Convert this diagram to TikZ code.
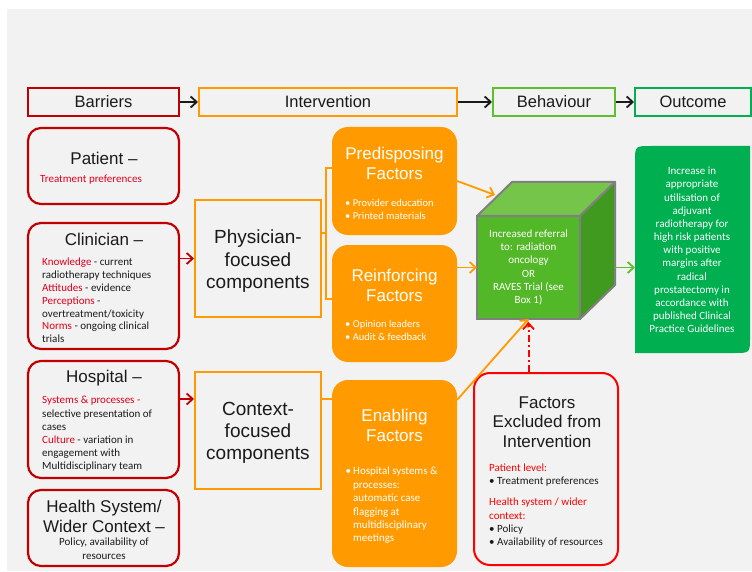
\documentclass[tikz,border=0pt]{standalone}
\usepackage{fontspec}
\setmainfont{Liberation Sans}
\newfontfamily\calfont{Carlito}
\usetikzlibrary{arrows.meta}
\definecolor{bg}{HTML}{F2F2F2}
\definecolor{bred}{HTML}{C00000}
\definecolor{xred}{HTML}{FF0000}
\definecolor{tred}{HTML}{E0001B}
\definecolor{orng}{HTML}{FF9B00}
\definecolor{lgreen}{HTML}{5CC02C}
\definecolor{dgreen}{HTML}{00AF50}
\definecolor{cfront}{HTML}{52B827}
\definecolor{ctop}{HTML}{74C54A}
\definecolor{cside}{HTML}{3F9A1F}
\definecolor{cedge}{HTML}{808080}
\definecolor{txt}{HTML}{1A1A1A}
\tikzset{
  hdr/.style={draw, line width=2pt, inner sep=0pt, minimum height=28pt, font=\fontsize{16.5}{20}\selectfont, text=txt},
  barbox/.style={draw=bred, line width=2.2pt, rounded corners=13pt, minimum width=151pt, inner sep=0pt},
  compbox/.style={draw=orng, line width=2pt, minimum width=126pt, minimum height=117pt, inner sep=0pt},
  facbox/.style={fill=orng, rounded corners=16pt, minimum width=125pt, inner sep=0pt},
  bigtxt/.style={font=\fontsize{17}{19.5}\selectfont, text=txt, align=center, inner sep=0pt},
  comptxt/.style={font=\fontsize{19}{22.5}\selectfont, text=txt, align=center, inner sep=0pt},
  factxt/.style={font=\fontsize{17}{20}\selectfont, text=white, align=center, inner sep=0pt},
  smalltxt/.style={font=\calfont\fontsize{11}{13}\selectfont, text=txt, align=left, inner sep=0pt, anchor=west},
  bultxt/.style={font=\calfont\fontsize{10.5}{13}\selectfont, text=white, align=left, inner sep=0pt, anchor=west},
  arr/.style={-{Straight Barb[length=6pt,width=11pt,line width=1.8pt]}, line width=1.8pt},
  brk/.style={draw=orng, line width=1.6pt},
}
\begin{document}
\begin{tikzpicture}[x=1pt,y=-1pt]
\useasboundingbox (0,0) rectangle (752,572);
\fill[bg] (7,9) rectangle (752,571);

% header row
\node[hdr, draw=bred, minimum width=151pt] (barriers) at (103.5,102) {Barriers};
\node[hdr, draw=orng, minimum width=258pt] (interv) at (328,102) {Intervention};
\node[hdr, draw=lgreen, minimum width=122pt] (behav) at (554,102) {Behaviour};
\node[hdr, draw=dgreen, minimum width=116pt] (outc) at (693,102) {Outcome};
\draw[arr, txt] (barriers) -- (interv);
\draw[arr, txt] (interv) -- (behav);
\draw[arr, txt] (behav) -- (outc);

% barrier boxes
\node[barbox, minimum height=76pt] (pat) at (103.5,166) {};
\node[bigtxt] (pat-t) at (104,158) {Patient –};
\node[smalltxt, text=tred] (pat-b) at (40,180) {Treatment preferences};

\node[barbox, minimum height=126pt] (clin) at (103.5,286) {};
\node[bigtxt] (clin-t) at (104,239) {Clinician –};
\node[smalltxt, font=\calfont\fontsize{11}{12.85}\selectfont] (clin-b) at (42,300.5) {\textcolor{tred}{Knowledge} - current\\radiotherapy techniques\\\textcolor{tred}{Attitudes} - evidence\\\textcolor{tred}{Perceptions} -\\overtreatment/toxicity\\\textcolor{tred}{Norms} - ongoing clinical\\trials};

\node[barbox, minimum height=117pt] (hosp) at (103.5,419.5) {};
\node[bigtxt] (hosp-t) at (104,378) {Hospital –};
\node[smalltxt, font=\calfont\fontsize{11}{13.2}\selectfont] (hosp-b) at (42,434) {\textcolor{tred}{Systems \& processes -}\\selective presentation of\\cases\\\textcolor{tred}{Culture} - variation in\\engagement with\\Multidisciplinary team};

\node[barbox, minimum height=76pt] (hs) at (103.5,528) {};
\node[bigtxt] (hs-t) at (104,516.5) {Health System/\\Wider Context –};
\node[smalltxt, anchor=center, align=center, font=\calfont\fontsize{11}{14}\selectfont] (hs-b) at (104,549) {Policy, availability of\\resources};

% component boxes
\node[compbox] (phys) at (258,258.5) {};
\node[comptxt] (phys-t) at (258,261.5) {Physician-\\focused\\components};
\node[compbox] (ctx) at (258,430.5) {};
\node[comptxt, font=\fontsize{19}{22}\selectfont] (ctx-t) at (258,433) {Context-\\focused\\components};

\draw[arr, bred] (clin.east |- phys) -- (phys.west);
\draw[arr, bred] ([yshift=20.5pt]hosp.east) -- ([yshift=20.5pt]hosp.east -| ctx.west);

% factor boxes
\node[facbox, minimum height=108pt] (prede) at (394.5,181) {};
\node[factxt] (prede-t) at (394.5,163) {Predisposing\\Factors};
\node[bultxt] (prede-b) at (345,209.5) {• Provider education\\• Printed materials};

\node[facbox, minimum height=117pt] (reinf) at (394.5,303.5) {};
\node[factxt] (reinf-t) at (394.5,285) {Reinforcing\\Factors};
\node[bultxt] (reinf-b) at (345,330.5) {• Opinion leaders\\• Audit \& feedback};

\node[facbox, minimum height=187pt] (enab) at (394.5,473.5) {};
\node[factxt] (enab-t) at (394.5,425.5) {Enabling\\Factors};
\node[bultxt, font=\calfont\fontsize{11}{13.4}\selectfont] (enab-d) at (345.5,472) {•};
\node[bultxt, font=\calfont\fontsize{11}{13.4}\selectfont] (enab-b) at (353,505.5) {Hospital systems \&\\processes:\\automatic case\\flagging at\\multidisciplinary\\meetings};

% bracket connectors
\coordinate (b1) at (326,168);
\coordinate (b2) at (326,299);
\coordinate (b3) at (326,233);
\coordinate (b4) at (326,399);
\draw[brk] (b1 -| prede.west) -- (b1) -- (b2) -- (b2 -| reinf.west);
\draw[brk] (b3 -| phys.east) -- (b3);
\draw[brk] (b4 -| ctx.east) -- (b4 -| enab.west);

% cube
\node[fill=cfront, draw=cedge, line width=2pt, outer sep=0pt, minimum width=103pt, minimum height=103pt, inner sep=0pt, font=\calfont\fontsize{11}{13.2}\selectfont, text=white, align=center] (cube) at (528.5,267.5) {Increased referral\\to: radiation\\oncology\\OR\\RAVES Trial (see\\Box 1)};
\filldraw[fill=ctop, draw=cedge, line width=2pt, line join=round] (cube.north west) -- ++(35pt,34pt) -- ++(103pt,0pt) -- (cube.north east) -- cycle;
\filldraw[fill=cside, draw=cedge, line width=2pt, line join=round] (cube.north east) -- ++(35pt,34pt) -- ++(0pt,-103pt) -- (cube.south east) -- cycle;

% outcome box
\node[inner sep=0pt, outer sep=0pt, minimum width=115pt, minimum height=207pt] (outbox) at (692.5,249.5) {};
\fill[dgreen] (outbox.south west) -- ([yshift=-16pt]outbox.north west) .. controls (outbox.north west) .. ([xshift=16pt]outbox.north west) -- (outbox.north east) -- ([yshift=16pt]outbox.south east) .. controls (outbox.south east) .. ([xshift=-16pt]outbox.south east) -- cycle;
\node[font=\calfont\fontsize{11}{13.17}\selectfont, text=white, align=center, inner sep=0pt] (out-t) at (692,250) {Increase in\\appropriate\\utilisation of\\adjuvant\\radiotherapy for\\high risk patients\\with positive\\margins after\\radical\\prostatectomy in\\accordance with\\published Clinical\\Practice Guidelines};

% excluded factors
\node[draw=xred, line width=2pt, rounded corners=16pt, minimum width=144pt, minimum height=192pt, inner sep=0pt] (excl) at (546,469) {};
\node[bigtxt] (excl-t) at (547,422) {Factors\\Excluded from\\Intervention};
\node[smalltxt] (excl-a) at (489,475.5) {\textcolor{xred}{Patient level:}\\• Treatment preferences};
\node[smalltxt, font=\calfont\fontsize{11}{13.3}\selectfont] (excl-b) at (489,523) {\textcolor{xred}{Health system / wider}\\\textcolor{xred}{context:}\\• Policy\\• Availability of resources};

% arrows to/from cube
\draw[arr, orng] (prede.east) -- ([shift={(18pt,21pt)}]cube.north west);
\draw[arr, orng] (cube.west -| reinf.east) -- (cube.west);
\draw[arr, orng] ([yshift=-20pt]enab.north east) -- (cube.south);
\draw[arr, xred, line width=2pt, dash pattern=on 7pt off 3pt on 2pt off 3pt] (cube.south |- excl.north) -- ([yshift=-3pt]cube.south);
\draw[arr, lgreen] ([xshift=35pt]cube.east) -- (outbox.west |- cube.east);
\end{tikzpicture}
\end{document}
